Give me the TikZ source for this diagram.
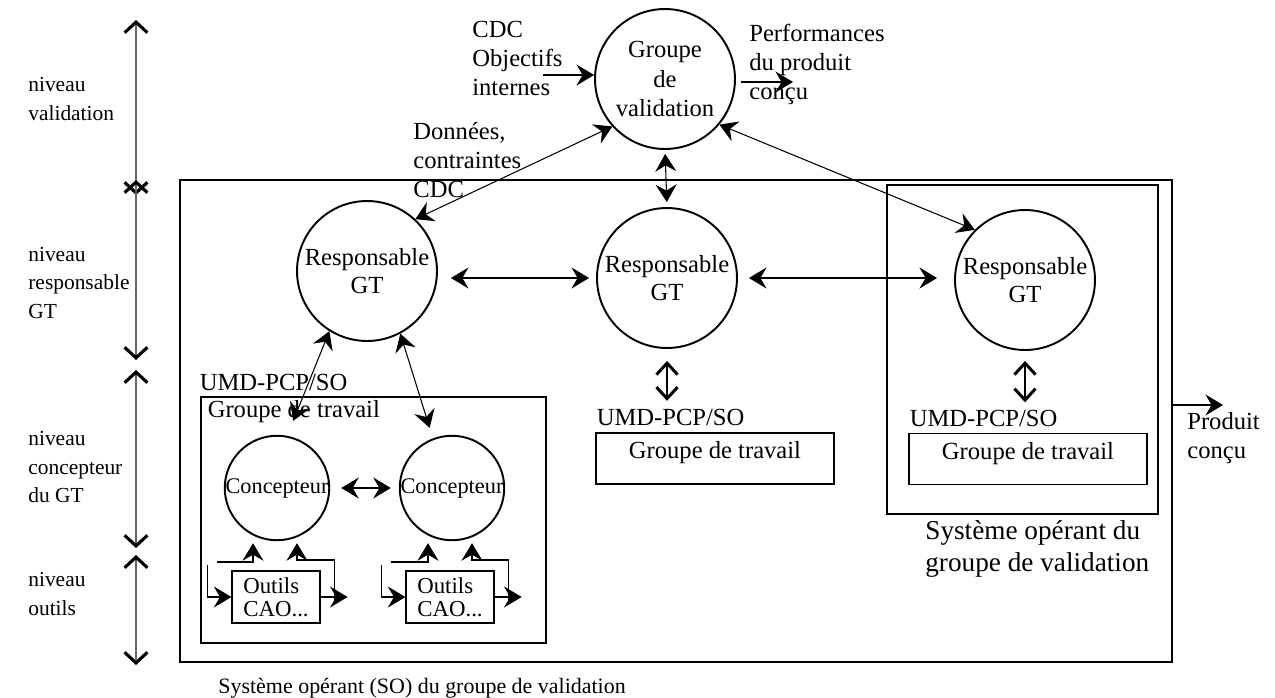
\documentclass[tikz,border=0pt]{standalone}
\usepackage{fontspec}
\setmainfont{Liberation Serif}
\usepackage{tikz}
\usetikzlibrary{arrows.meta}
\usetikzlibrary{positioning,calc}

\begin{document}
\begin{tikzpicture}[x=0.02cm, y=-0.02cm]
    \tikzstyle{edge}  = [line width=0.6pt, draw=black]
    \tikzstyle{dedge} = [edge, {Stealth[length=10pt,width=12pt,inset=3.5pt]}-{Stealth[length=10pt,width=12pt,inset=3.5pt]}]
    \tikzstyle{sedge} = [edge, -{Stealth[length=10pt,width=12pt,inset=3.5pt]}]
    \tikzstyle{bedge} = [line width=0.9pt, {Straight Barb[length=6.5pt,width=12pt,line width=1.7pt]}-{Straight Barb[length=6.5pt,width=12pt,line width=1.7pt]}]
    \tikzstyle{level} = [line width=0.8pt, draw=black!60, {Straight Barb[length=6pt,width=13pt,line width=1.8pt,black]}-{Straight Barb[length=6pt,width=13pt,line width=1.8pt,black]}]
    \tikzstyle{txt}=[
      inner sep=0pt,
      align=left,
      font=\fontsize{14}{16.5}\selectfont,
    ]
    \tikzstyle{lvltxt}=[
      txt,
      anchor=west,
      font=\fontsize{12.2}{16}\selectfont,
    ]
    \tikzstyle{actor}=[
      circle,
      draw=black,
      line width=1.1pt,
      minimum size=2.8cm,
      inner sep=0pt,
      align=center,
      font=\fontsize{14}{16}\selectfont,
    ]
    \tikzstyle{designer}=[
      actor,
      minimum size=2.08cm,
      font=\fontsize{12.7}{15}\selectfont,
    ]
    \tikzstyle{frame}=[
      rectangle,
      draw=black,
      line width=0.7pt,
      inner sep=0pt,
    ]
    \tikzstyle{team}=[
      frame,
      minimum width=4.76cm,
      minimum height=1.02cm,
      text height=10pt,
      text depth=10pt,
      font=\fontsize{14}{16}\selectfont,
    ]
    \tikzstyle{tool}=[
      frame,
      minimum width=1.76cm,
      minimum height=1.04cm,
      align=left,
      font=\fontsize{13}{13}\selectfont,
    ]

    \useasboundingbox (0,0) rectangle (1275,697);

    % levels
    {
      \node[lvltxt] (lvlVal) at (28,99) {niveau\\validation};
      \node[lvltxt] (lvlResp) at (28,283) {niveau\\responsable\\GT};
      \node[lvltxt] (lvlConc) at (28,467) {niveau\\concepteur\\du GT};
      \node[lvltxt] (lvlTool) at (28,594) {niveau\\outils};

      \foreach \t/\b [count=\i] in {20/195, 180/360, 370/548, 555/665} {
        \coordinate (lvl\i top) at (136,\t);
        \coordinate (lvl\i bot) at (136,\b);
        \draw[level] (lvl\i top) -- (lvl\i bot);
      }
    }

    % boxes
    {
      \node[frame, minimum width=19.84cm, minimum height=9.64cm] (soBox) at (676,421) {};
      \node[frame, line width=1.5pt, minimum width=5.42cm, minimum height=6.58cm] (opBox) at (1022.5,349.5) {};
      \node[frame, minimum width=6.9cm, minimum height=4.92cm] (grp1) at (373.5,520) {};
      \node[team] (grp2) at (715,458.5) {Groupe de travail};
      \node[team] (grp3) at (1028,459) {Groupe de travail};

      \node[txt, anchor=west] (umd1) at ([shift={(-1,-14)}]grp1.north west) {UMD-PCP/SO};
      \node[txt, anchor=west] (umd2) at ([shift={(1,-15)}]grp2.north west) {UMD-PCP/SO};
      \node[txt, anchor=west] (umd3) at ([shift={(1,-14)}]grp3.north west) {UMD-PCP/SO};
      \node[txt, anchor=west] (grp1lbl) at ([shift={(7,15)}]grp1.north west) {Groupe de travail};

      \node[txt, anchor=west, font=\fontsize{15.5}{18}\selectfont] (opLbl) at (925,549) {Système opérant du\\groupe de validation};
      \node[txt, anchor=west, font=\fontsize{12.5}{15}\selectfont] (soLbl) at (218,688) {Système opérant (SO) du groupe de validation};
    }

    % actors
    {
      \node[actor, font=\fontsize{14}{17}\selectfont] (valid) at (665,79) {Groupe\\de\\validation};

      \node[actor] (resp1) at (367,271) {Responsable\\GT};
      \node[actor] (resp2) at (667,278) {Responsable\\GT};
      \node[actor] (resp3) at (1025,280) {Responsable\\GT};

      \node[designer] (conc1) at (277,488) {Concepteur};
      \node[designer] (conc2) at (452,488) {Concepteur};

      \node[tool] (tool1) at (276,597) {Outils\\CAO...};
      \node[tool] (tool2) at (450,597) {Outils\\CAO...};
    }

    % validation level
    {
      \node[txt, anchor=west] (cdcLbl) at (472,58) {CDC\\Objectifs\\internes};
      \node[txt, anchor=west] (perfLbl) at (749,64) {Performances\\du produit\\conçu};
      \node[txt, anchor=west] (dataLbl) at (413,160) {Données,\\contraintes\\CDC};

      \coordinate (cdcIn) at (543,75);
      \coordinate (perfOut) at (793,82);
      \draw[sedge] (cdcIn) -- (cdcIn -| valid.west);
      \draw[sedge, shorten <=0.1cm] (valid.east |- perfOut) -- (perfOut);

      \draw[dedge] (resp1.47) -- (valid.222);
      \draw[dedge, shorten <=0.08cm, shorten >=0.1cm] (valid.south) -- (resp2.north);
      \draw[dedge] (valid.-40) -- (resp3.135);
    }

    % responsable level
    {
      \draw[dedge, shorten <=0.26cm, shorten >=0.14cm] (resp1.east |- resp2) -- (resp2.west);
      \draw[dedge, shorten <=0.22cm, shorten >=0.34cm] (resp2.east) -- (resp2.east -| resp3.west);

      \draw[bedge, shorten <=0.24cm, shorten >=0.16cm] (resp2.south) -- (resp2.south |- umd2.north);
      \draw[bedge, shorten <=0.2cm, shorten >=0.16cm] (resp3.south) -- (resp3.south |- umd3.north);

      \draw[dedge, shorten >=0.32cm] (resp1.-122) -- (conc1.79);
      \draw[dedge, shorten >=0.22cm] (resp1.-62) -- (conc2.111);
    }

    % concepteur and outils level
    {
      \draw[dedge, shorten <=0.22cm, shorten >=0.16cm] (conc1) -- (conc2);

      \foreach \t/\c in {tool1/conc1, tool2/conc2} {
        \draw[sedge] ([shift={(-24,-32)}]\t.west) |- (\t.west);
        \draw[sedge] ([shift={(-14,-35)}]\t.west) -| ([shift={(-24,2)}]\c.south);
        \draw[sedge] (\t.east) -- ++(27,0);
        \draw[sedge] ([shift={(14,6)}]\t.east) -- ([shift={(14,-37)}]\t.east) -| ([shift={(20,2)}]\c.south);
      }
    }

    % produit
    {
      \node[txt, anchor=west] (prodLbl) at (1187,438) {Produit\\conçu};
      \coordinate (prodOut) at (1223,405);
      \draw[sedge] (prodOut -| soBox.east) -- (prodOut);
    }
\end{tikzpicture}
\end{document}
